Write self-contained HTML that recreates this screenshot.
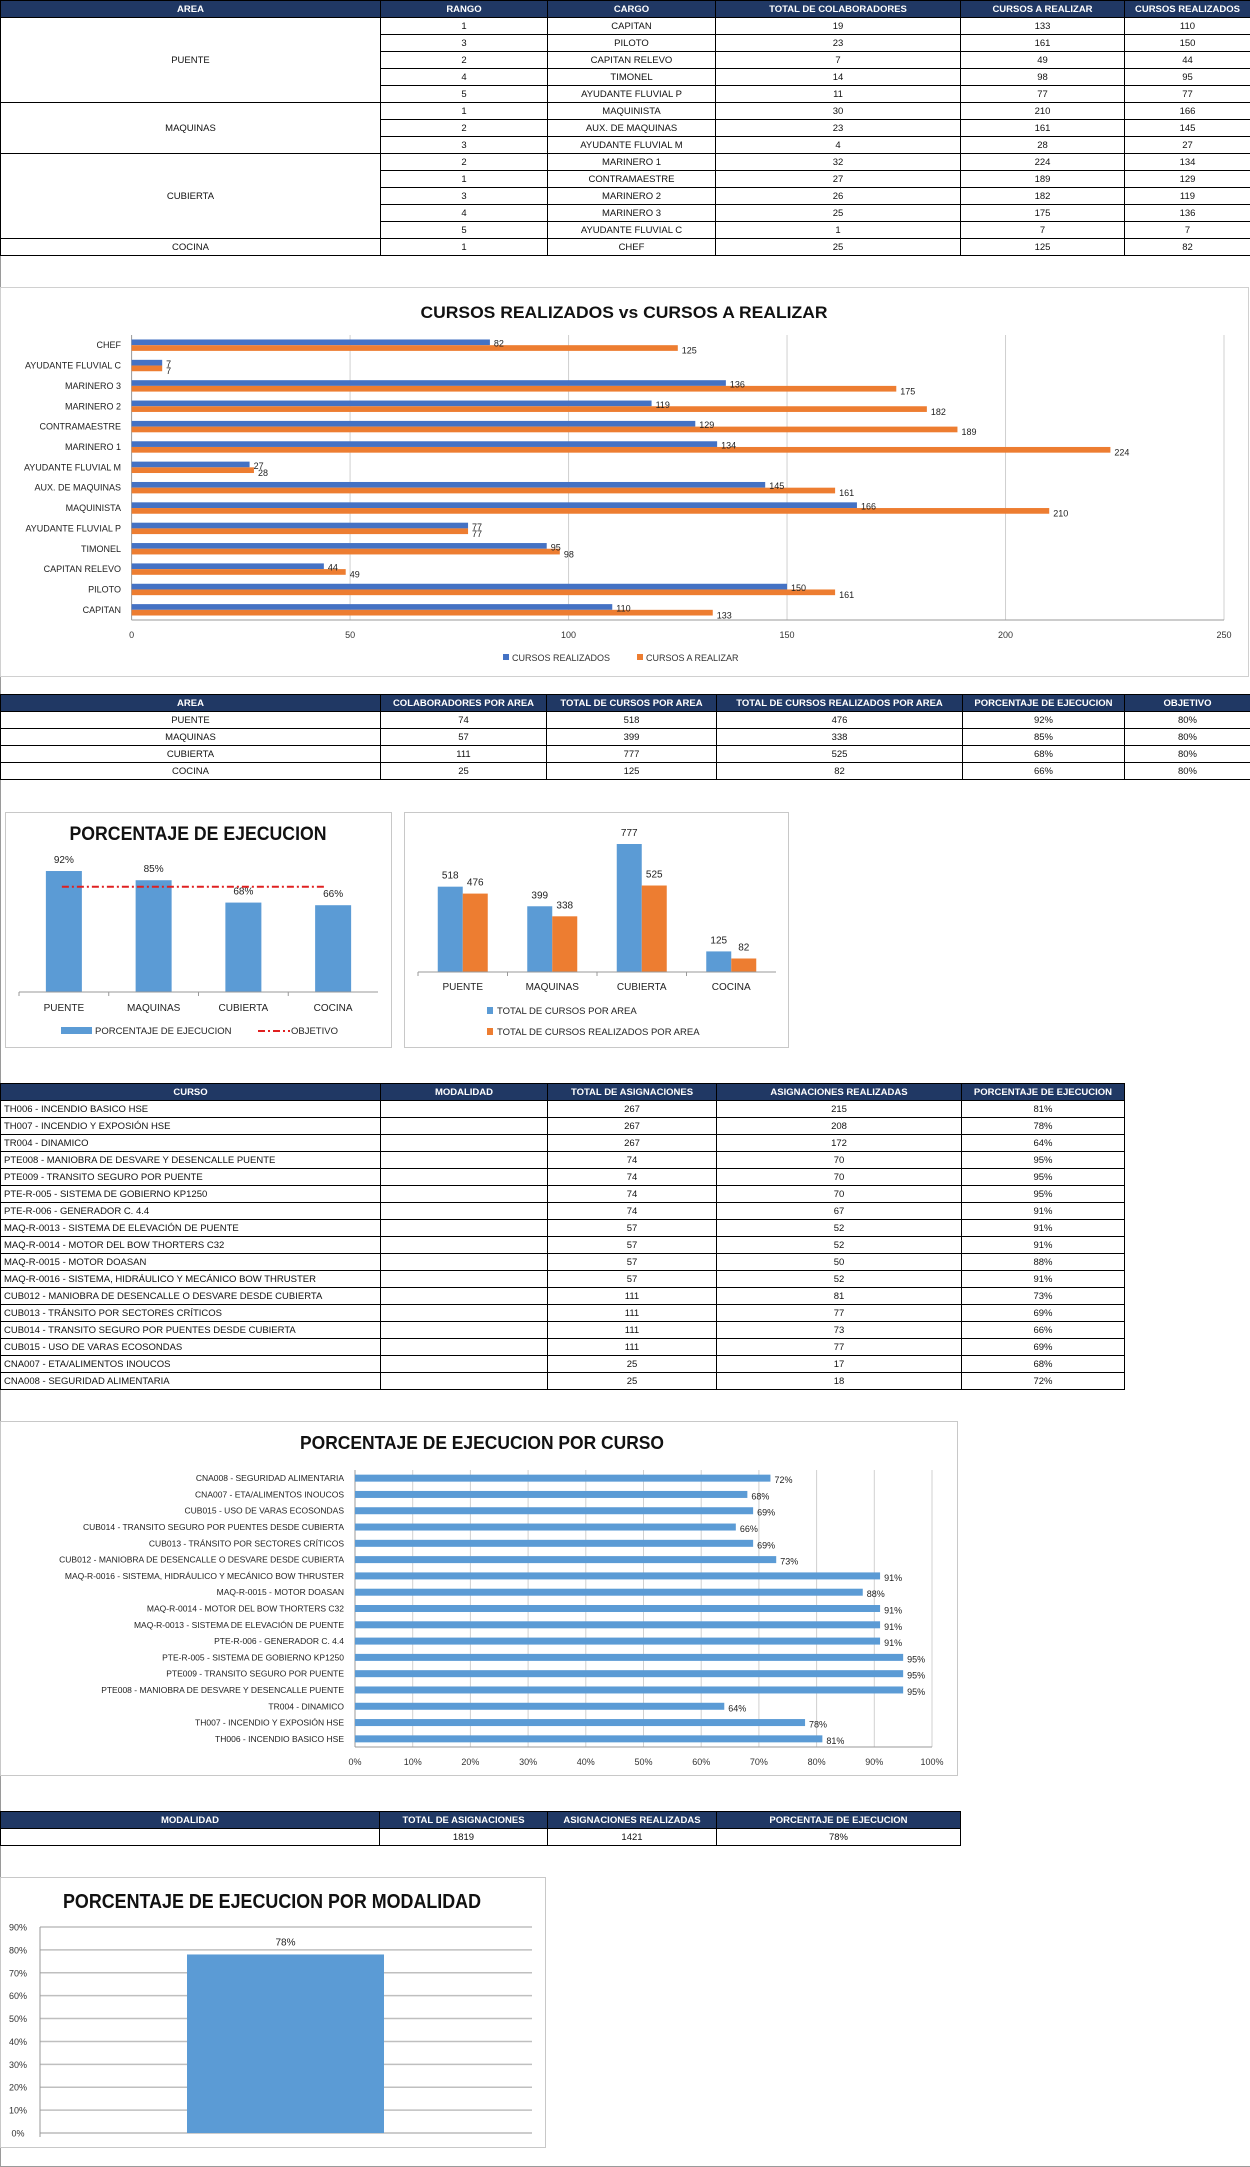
<!DOCTYPE html>
<html><head><meta charset="utf-8">
<style>
*{box-sizing:border-box}
body{margin:0;width:1250px;height:2167px;position:relative;background:#fff;font-family:"Liberation Sans",sans-serif;overflow:hidden}
#page-frame{position:absolute;left:0;top:0;width:1250px;height:2167px;border-left:1px solid #9a9a9a;border-bottom:1px solid #9a9a9a}
table{position:absolute;border-collapse:collapse;table-layout:fixed;font-size:9.5px;color:#111}
td,th{border:1px solid #000;height:17px;padding:0 3px;text-align:center;white-space:nowrap;overflow:hidden;line-height:15px}
th{background:#203864;color:#fff;font-weight:bold;font-size:9.5px}
td.l{text-align:left}
td.v{border-top:none}
svg{position:absolute;left:0;top:0}
</style></head>
<body>
<div id="page-frame"></div>

<table style="left:0;top:0;width:1250px">
<colgroup><col style="width:380px"><col style="width:167px"><col style="width:168px"><col style="width:245px"><col style="width:164px"><col style="width:126px"></colgroup>
<tr><th>AREA</th><th>RANGO</th><th>CARGO</th><th>TOTAL DE COLABORADORES</th><th>CURSOS A REALIZAR</th><th>CURSOS REALIZADOS</th></tr>
<tr><td rowspan="5">PUENTE</td><td>1</td><td>CAPITAN</td><td>19</td><td>133</td><td>110</td></tr>
<tr><td>3</td><td>PILOTO</td><td>23</td><td>161</td><td>150</td></tr>
<tr><td>2</td><td>CAPITAN RELEVO</td><td>7</td><td>49</td><td>44</td></tr>
<tr><td>4</td><td>TIMONEL</td><td>14</td><td>98</td><td>95</td></tr>
<tr><td>5</td><td>AYUDANTE FLUVIAL P</td><td>11</td><td>77</td><td>77</td></tr>
<tr><td rowspan="3">MAQUINAS</td><td>1</td><td>MAQUINISTA</td><td>30</td><td>210</td><td>166</td></tr>
<tr><td>2</td><td>AUX. DE MAQUINAS</td><td>23</td><td>161</td><td>145</td></tr>
<tr><td>3</td><td>AYUDANTE FLUVIAL M</td><td>4</td><td>28</td><td>27</td></tr>
<tr><td rowspan="5">CUBIERTA</td><td>2</td><td>MARINERO 1</td><td>32</td><td>224</td><td>134</td></tr>
<tr><td>1</td><td>CONTRAMAESTRE</td><td>27</td><td>189</td><td>129</td></tr>
<tr><td>3</td><td>MARINERO 2</td><td>26</td><td>182</td><td>119</td></tr>
<tr><td>4</td><td>MARINERO 3</td><td>25</td><td>175</td><td>136</td></tr>
<tr><td>5</td><td>AYUDANTE FLUVIAL C</td><td>1</td><td>7</td><td>7</td></tr>
<tr><td>COCINA</td><td>1</td><td>CHEF</td><td>25</td><td>125</td><td>82</td></tr>
</table>

<table style="left:0;top:694px;width:1250px">
<colgroup><col style="width:380px"><col style="width:166px"><col style="width:170px"><col style="width:246px"><col style="width:162px"><col style="width:126px"></colgroup>
<tr><th>AREA</th><th>COLABORADORES POR AREA</th><th>TOTAL DE CURSOS POR AREA</th><th>TOTAL DE CURSOS REALIZADOS POR AREA</th><th>PORCENTAJE DE EJECUCION</th><th>OBJETIVO</th></tr>
<tr><td>PUENTE</td><td>74</td><td>518</td><td>476</td><td>92%</td><td>80%</td></tr>
<tr><td>MAQUINAS</td><td>57</td><td>399</td><td>338</td><td>85%</td><td>80%</td></tr>
<tr><td>CUBIERTA</td><td>111</td><td>777</td><td>525</td><td>68%</td><td>80%</td></tr>
<tr><td>COCINA</td><td>25</td><td>125</td><td>82</td><td>66%</td><td>80%</td></tr>
</table>

<table style="left:0;top:1083px;width:1124px">
<colgroup><col style="width:380px"><col style="width:167px"><col style="width:169px"><col style="width:245px"><col style="width:163px"></colgroup>
<tr><th>CURSO</th><th>MODALIDAD</th><th>TOTAL DE ASIGNACIONES</th><th>ASIGNACIONES REALIZADAS</th><th>PORCENTAJE DE EJECUCION</th></tr>
<tr><td class="l">TH006 - INCENDIO BASICO HSE</td><td></td><td>267</td><td>215</td><td>81%</td></tr>
<tr><td class="l">TH007 - INCENDIO Y EXPOSIÓN HSE</td><td></td><td>267</td><td>208</td><td>78%</td></tr>
<tr><td class="l">TR004 - DINAMICO</td><td></td><td>267</td><td>172</td><td>64%</td></tr>
<tr><td class="l">PTE008 - MANIOBRA DE DESVARE Y DESENCALLE PUENTE</td><td></td><td>74</td><td>70</td><td>95%</td></tr>
<tr><td class="l">PTE009 - TRANSITO SEGURO POR PUENTE</td><td></td><td>74</td><td>70</td><td>95%</td></tr>
<tr><td class="l">PTE-R-005 - SISTEMA DE GOBIERNO KP1250</td><td></td><td>74</td><td>70</td><td>95%</td></tr>
<tr><td class="l">PTE-R-006 - GENERADOR C. 4.4</td><td></td><td>74</td><td>67</td><td>91%</td></tr>
<tr><td class="l">MAQ-R-0013 - SISTEMA DE ELEVACIÓN DE PUENTE</td><td></td><td>57</td><td>52</td><td>91%</td></tr>
<tr><td class="l">MAQ-R-0014 - MOTOR DEL BOW THORTERS C32</td><td></td><td>57</td><td>52</td><td>91%</td></tr>
<tr><td class="l">MAQ-R-0015 - MOTOR DOASAN</td><td></td><td>57</td><td>50</td><td>88%</td></tr>
<tr><td class="l">MAQ-R-0016 - SISTEMA, HIDRÁULICO Y MECÁNICO BOW THRUSTER</td><td></td><td>57</td><td>52</td><td>91%</td></tr>
<tr><td class="l">CUB012 - MANIOBRA DE DESENCALLE O DESVARE DESDE CUBIERTA</td><td></td><td>111</td><td>81</td><td>73%</td></tr>
<tr><td class="l">CUB013 - TRÁNSITO POR SECTORES CRÍTICOS</td><td></td><td>111</td><td>77</td><td>69%</td></tr>
<tr><td class="l">CUB014 - TRANSITO SEGURO  POR PUENTES DESDE CUBIERTA</td><td></td><td>111</td><td>73</td><td>66%</td></tr>
<tr><td class="l">CUB015 - USO DE VARAS ECOSONDAS</td><td></td><td>111</td><td>77</td><td>69%</td></tr>
<tr><td class="l">CNA007 - ETA/ALIMENTOS INOUCOS</td><td></td><td>25</td><td>17</td><td>68%</td></tr>
<tr><td class="l">CNA008 - SEGURIDAD ALIMENTARIA</td><td></td><td>25</td><td>18</td><td>72%</td></tr>
</table>

<table style="left:0;top:1811px;width:960px">
<colgroup><col style="width:379px"><col style="width:168px"><col style="width:169px"><col style="width:244px"></colgroup>
<tr><th>MODALIDAD</th><th>TOTAL DE ASIGNACIONES</th><th>ASIGNACIONES REALIZADAS</th><th>PORCENTAJE DE EJECUCION</th></tr>
<tr><td></td><td>1819</td><td>1421</td><td>78%</td></tr>
</table>

<svg id="charts" width="1250" height="2167" font-family="Liberation Sans, sans-serif">
<!-- chart 1 frame -->
<rect x="0.5" y="287.5" width="1248" height="389" fill="#fff" stroke="#d0d0d0"/>
<text x="624" y="318" text-anchor="middle" font-size="17" font-weight="bold" textLength="407" lengthAdjust="spacingAndGlyphs" fill="#111">CURSOS REALIZADOS vs CURSOS A REALIZAR</text>
<g id="c1"></g>
<rect x="503" y="654" width="6" height="6" fill="#4472c4"/>
<text x="512" y="661" font-size="9" fill="#333">CURSOS REALIZADOS</text>
<rect x="637" y="654" width="6" height="6" fill="#ed7d31"/>
<text x="646" y="661" font-size="9" fill="#333">CURSOS A REALIZAR</text>

<!-- chart 3 -->
<rect x="5.5" y="812.5" width="386" height="235" fill="#fff" stroke="#c8c8c8"/>
<text x="198" y="840" text-anchor="middle" font-size="19" font-weight="bold" textLength="257" lengthAdjust="spacingAndGlyphs" fill="#111">PORCENTAJE DE EJECUCION</text>
<g id="c3"></g>
<rect x="61" y="1027" width="31" height="7" fill="#5b9bd5"/>
<text x="95" y="1034" font-size="9.5" fill="#222">PORCENTAJE DE EJECUCION</text>
<line x1="258" y1="1031" x2="290" y2="1031" stroke="#e02020" stroke-width="2" stroke-dasharray="7,3,2,3"/>
<text x="291" y="1034" font-size="9.5" fill="#222">OBJETIVO</text>

<!-- chart 4 -->
<rect x="404.5" y="812.5" width="384" height="235" fill="#fff" stroke="#c8c8c8"/>
<g id="c4"></g>
<rect x="487" y="1007" width="6" height="7" fill="#5b9bd5"/>
<text x="497" y="1014" font-size="9.5" fill="#222">TOTAL DE CURSOS POR AREA</text>
<rect x="487" y="1028" width="6" height="7" fill="#ed7d31"/>
<text x="497" y="1035" font-size="9.5" fill="#222">TOTAL DE CURSOS REALIZADOS POR AREA</text>

<!-- chart 5 -->
<rect x="0.5" y="1421.5" width="957" height="354" fill="#fff" stroke="#c8c8c8"/>
<text x="482" y="1449" text-anchor="middle" font-size="18" font-weight="bold" textLength="364" lengthAdjust="spacingAndGlyphs" fill="#111">PORCENTAJE DE EJECUCION POR CURSO</text>
<g id="c5"></g>

<!-- chart 6 -->
<rect x="0.5" y="1877.5" width="545" height="270" fill="#fff" stroke="#c8c8c8"/>
<text x="272" y="1908" text-anchor="middle" font-size="20" font-weight="bold" textLength="418" lengthAdjust="spacingAndGlyphs" fill="#111">PORCENTAJE DE EJECUCION POR MODALIDAD</text>
<g id="c6"></g>
</svg>

<script>
const NS="http://www.w3.org/2000/svg";
// chart 1 data
const c1Cats=["CHEF","AYUDANTE FLUVIAL C","MARINERO 3","MARINERO 2","CONTRAMAESTRE","MARINERO 1","AYUDANTE FLUVIAL M","AUX. DE MAQUINAS","MAQUINISTA","AYUDANTE FLUVIAL P","TIMONEL","CAPITAN RELEVO","PILOTO","CAPITAN"];
const c1Realizados=[82,7,136,119,129,134,27,145,166,77,95,44,150,110];
const c1ARealizar=[125,7,175,182,189,224,28,161,210,77,98,49,161,133];
const c1Ticks=[0,50,100,150,200,250];
// chart 3 data
const c3Cats=["PUENTE","MAQUINAS","CUBIERTA","COCINA"];
const c3Pct=[92,85,68,66];
const c3Objetivo=[80,80,80,80];
// chart 4 data
const c4Cats=["PUENTE","MAQUINAS","CUBIERTA","COCINA"];
const c4Total=[518,399,777,125];
const c4Realizados=[476,338,525,82];
// chart 5 data
const c5Cats=["CNA008 - SEGURIDAD ALIMENTARIA","CNA007 - ETA/ALIMENTOS INOUCOS","CUB015 - USO DE VARAS ECOSONDAS","CUB014 - TRANSITO SEGURO  POR PUENTES DESDE CUBIERTA","CUB013 - TRÁNSITO POR SECTORES CRÍTICOS","CUB012 - MANIOBRA DE DESENCALLE O DESVARE DESDE CUBIERTA","MAQ-R-0016 - SISTEMA, HIDRÁULICO Y MECÁNICO BOW THRUSTER","MAQ-R-0015 - MOTOR DOASAN","MAQ-R-0014 - MOTOR DEL BOW THORTERS C32","MAQ-R-0013 - SISTEMA DE ELEVACIÓN DE PUENTE","PTE-R-006 - GENERADOR C. 4.4","PTE-R-005 - SISTEMA DE GOBIERNO KP1250","PTE009 - TRANSITO SEGURO POR PUENTE","PTE008 - MANIOBRA DE DESVARE Y DESENCALLE PUENTE","TR004 - DINAMICO","TH007 - INCENDIO Y EXPOSIÓN HSE","TH006 - INCENDIO BASICO HSE"];
const c5Pct=[72,68,69,66,69,73,91,88,91,91,91,95,95,95,64,78,81];
const c5Ticks=[0,10,20,30,40,50,60,70,80,90,100];
// chart 6 data
const c6Cats=["MODALIDAD"];
const c6Pct=[78];
const c6Ticks=[0,10,20,30,40,50,60,70,80,90];

function mk(tag,attrs,parent,txt){const e=document.createElementNS(NS,tag);for(const k in attrs)e.setAttribute(k,attrs[k]);if(txt!==undefined)e.textContent=txt;parent.appendChild(e);return e;}

// ---- chart 1 ----
(function(){
  const g=document.getElementById('c1');
  const L=131.6,R=1224,T=335,B=620,max=250;
  const x=v=>L+v*(R-L)/max;
  const band=(B-T)/c1Cats.length;
  c1Ticks.forEach(t=>{
    const ln=mk('line',{x1:x(t),x2:x(t),y1:T,y2:B,stroke:t===0?'#999':'#d0d0d0','stroke-width':1},g);
    
    
    const tx=mk('text',{x:x(t),y:638,'font-size':9,'text-anchor':'middle',fill:'#333'},g,String(t));
    
    
  });
  const ax=mk('line',{x1:L,x2:R,y1:B,y2:B,stroke:'#999'},g);
  
  
  c1Cats.forEach((c,i)=>{
    const yc=T+band*(i+0.5);
    const lab=mk('text',{x:121,y:yc+3,'font-size':9,'text-anchor':'end',fill:'#222'},g,c);
    
    
    const b1=mk('rect',{x:L,y:yc-5.7,width:x(c1Realizados[i])-L,height:5.7,fill:'#4472c4'},g);
    
    
    const b2=mk('rect',{x:L,y:yc,width:x(c1ARealizar[i])-L,height:5.7,fill:'#ed7d31'},g);
    
    
    const t1=mk('text',{x:x(c1Realizados[i])+4,y:yc+1.5,'font-size':9,fill:'#222'},g,String(c1Realizados[i]));
    
    
    const t2=mk('text',{x:x(c1ARealizar[i])+4,y:yc+8.5,'font-size':9,fill:'#222'},g,String(c1ARealizar[i]));
    
    
  });
})();

// ---- chart 3 ----
(function(){
  const g=document.getElementById('c3');
  const L=19,R=378,B=992,k=131.5/100;
  const band=(R-L)/c3Cats.length;
  const y=v=>B-v*k;
  c3Cats.forEach((c,i)=>{
    const cx=L+band*(i+0.5);
    const b=mk('rect',{x:cx-18,y:y(c3Pct[i]),width:36,height:B-y(c3Pct[i]),fill:'#5b9bd5'},g);
    
    
    const t=mk('text',{x:cx,y:y(c3Pct[i])-8,'font-size':10,'text-anchor':'middle',fill:'#222'},g,c3Pct[i]+'%');
    
    
    const cl=mk('text',{x:cx,y:1011,'font-size':10,'text-anchor':'middle',fill:'#222'},g,c);
    
    
    const tk=mk('line',{x1:L+band*i,x2:L+band*i,y1:B,y2:B+4,stroke:'#999'},g);
    
    
  });
  const ax=mk('line',{x1:L,x2:R,y1:B,y2:B,stroke:'#999'},g);
  
  
  const first=L+band*0.5-2,last=L+band*(c3Cats.length-0.5)-8;
  const pts=c3Objetivo.map((v,i)=>{const cx=i===0?first:(i===c3Objetivo.length-1?last:L+band*(i+0.5));return cx+','+y(v);}).join(' ');
  const ob=mk('polyline',{points:pts,fill:'none',stroke:'#e02020','stroke-width':2,'stroke-dasharray':'7,3,2,3'},g);
  
  
})();

// ---- chart 4 ----
(function(){
  const g=document.getElementById('c4');
  const L=418,R=776,B=972,k=128/777;
  const band=(R-L)/c4Cats.length;
  const y=v=>B-v*k;
  c4Cats.forEach((c,i)=>{
    const cx=L+band*(i+0.5);
    const b1=mk('rect',{x:cx-25,y:y(c4Total[i]),width:25,height:B-y(c4Total[i]),fill:'#5b9bd5'},g);
    
    
    const b2=mk('rect',{x:cx,y:y(c4Realizados[i]),width:25,height:B-y(c4Realizados[i]),fill:'#ed7d31'},g);
    
    
    const t1=mk('text',{x:cx-12.5,y:y(c4Total[i])-8,'font-size':10,'text-anchor':'middle',fill:'#222'},g,String(c4Total[i]));
    
    
    const t2=mk('text',{x:cx+12.5,y:y(c4Realizados[i])-8,'font-size':10,'text-anchor':'middle',fill:'#222'},g,String(c4Realizados[i]));
    
    
    const cl=mk('text',{x:cx,y:990,'font-size':10,'text-anchor':'middle',fill:'#222'},g,c);
    
    
    const tk=mk('line',{x1:L+band*i,x2:L+band*i,y1:B,y2:B+4,stroke:'#999'},g);
    
    
  });
  const ax=mk('line',{x1:L,x2:R,y1:B,y2:B,stroke:'#999'},g);
  
  
})();

// ---- chart 5 ----
(function(){
  const g=document.getElementById('c5');
  const L=355,R=932,T=1470,B=1747;
  const x=v=>L+v*(R-L)/100;
  const band=(B-T)/c5Cats.length;
  c5Ticks.forEach(t=>{
    const ln=mk('line',{x1:x(t),x2:x(t),y1:T,y2:B,stroke:t===0?'#999':'#d0d0d0'},g);
    
    
    const tx=mk('text',{x:x(t),y:1765,'font-size':9,'text-anchor':'middle',fill:'#333'},g,t+'%');
    
    
  });
  const ax=mk('line',{x1:L,x2:R,y1:B,y2:B,stroke:'#999'},g);
  
  
  c5Cats.forEach((c,i)=>{
    const yc=T+band*(i+0.5);
    const lab=mk('text',{x:344,y:yc+3,'font-size':8.5,'text-anchor':'end',fill:'#222'},g,c);
    
    
    const b=mk('rect',{x:L,y:yc-3.5,width:x(c5Pct[i])-L,height:7,fill:'#5b9bd5'},g);
    
    
    const t=mk('text',{x:x(c5Pct[i])+4,y:yc+5,'font-size':9,fill:'#222'},g,c5Pct[i]+'%');
    
    
  });
})();

// ---- chart 6 ----
(function(){
  const g=document.getElementById('c6');
  const L=40,R=532,B=2133,T=1927,max=90;
  const y=v=>B-v*(B-T)/max;
  c6Ticks.forEach(t=>{
    const ln=mk('line',{x1:L,x2:R,y1:y(t),y2:y(t),stroke:t===0?'#999':'#bfbfbf','stroke-width':t===0?1:1.5},g);
    
    
    const tx=mk('text',{x:18,y:y(t)+3.5,'font-size':9,'text-anchor':'middle',fill:'#333'},g,t+'%');
    
    
  });
  const ya=mk('line',{x1:L,x2:L,y1:T,y2:B+4,stroke:'#999'},g);
  
  
  const band=(R-L)/c6Cats.length;
  c6Cats.forEach((c,i)=>{
    const cx=L+band*(i+0.5)-0.5;
    const b=mk('rect',{x:cx-98.5,y:y(c6Pct[i]),width:197,height:B-y(c6Pct[i]),fill:'#5b9bd5'},g);
    
    
    const t=mk('text',{x:cx,y:y(c6Pct[i])-9,'font-size':10,'text-anchor':'middle',fill:'#222'},g,c6Pct[i]+'%');
    
    
  });
})();
</script>
</body></html>
